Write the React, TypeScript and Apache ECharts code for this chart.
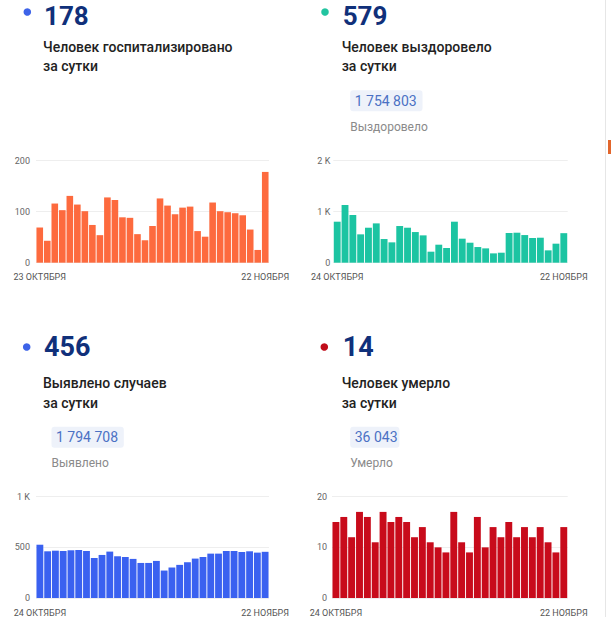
import React, { useEffect, useRef } from "react";
import * as echarts from "echarts";

const hospitalDates = [
  "23 ОКТЯБРЯ", "24 ОКТЯБРЯ", "25 ОКТЯБРЯ", "26 ОКТЯБРЯ", "27 ОКТЯБРЯ", "28 ОКТЯБРЯ", "29 ОКТЯБРЯ", "30 ОКТЯБРЯ", "31 ОКТЯБРЯ",
  "1 НОЯБРЯ", "2 НОЯБРЯ", "3 НОЯБРЯ", "4 НОЯБРЯ", "5 НОЯБРЯ", "6 НОЯБРЯ", "7 НОЯБРЯ", "8 НОЯБРЯ", "9 НОЯБРЯ", "10 НОЯБРЯ",
  "11 НОЯБРЯ", "12 НОЯБРЯ", "13 НОЯБРЯ", "14 НОЯБРЯ", "15 НОЯБРЯ", "16 НОЯБРЯ", "17 НОЯБРЯ", "18 НОЯБРЯ", "19 НОЯБРЯ", "20 НОЯБРЯ",
  "21 НОЯБРЯ", "22 НОЯБРЯ",
];
const dailyDates = [
  "24 ОКТЯБРЯ", "25 ОКТЯБРЯ", "26 ОКТЯБРЯ", "27 ОКТЯБРЯ", "28 ОКТЯБРЯ", "29 ОКТЯБРЯ", "30 ОКТЯБРЯ", "31 ОКТЯБРЯ",
  "1 НОЯБРЯ", "2 НОЯБРЯ", "3 НОЯБРЯ", "4 НОЯБРЯ", "5 НОЯБРЯ", "6 НОЯБРЯ", "7 НОЯБРЯ", "8 НОЯБРЯ", "9 НОЯБРЯ", "10 НОЯБРЯ",
  "11 НОЯБРЯ", "12 НОЯБРЯ", "13 НОЯБРЯ", "14 НОЯБРЯ", "15 НОЯБРЯ", "16 НОЯБРЯ", "17 НОЯБРЯ", "18 НОЯБРЯ", "19 НОЯБРЯ", "20 НОЯБРЯ",
  "21 НОЯБРЯ", "22 НОЯБРЯ",
];

const hospitalized = [69, 43, 116, 103, 131, 114, 101, 74, 54, 128, 123, 89, 88, 56, 44, 72, 126, 112, 95, 108, 110, 62, 51, 118, 101, 99, 97, 93, 65, 25, 178];
const recovered = [804, 1131, 935, 556, 686, 771, 464, 399, 719, 686, 601, 536, 216, 353, 288, 804, 471, 392, 307, 281, 183, 196, 582, 588, 542, 484, 490, 242, 373, 579];
const cases = [526, 461, 467, 464, 471, 474, 464, 395, 425, 458, 412, 405, 386, 346, 346, 366, 271, 301, 327, 353, 389, 405, 438, 438, 464, 464, 454, 461, 448, 456];
const deaths = [15, 16, 12, 17, 16, 11, 17, 15, 16, 15, 12, 14, 11, 10, 9, 17, 11, 9, 16, 10, 14, 12, 15, 12, 14, 12, 14, 11, 9, 14];

const headNumbers = ["178", "579", "456", "14"];
const headLine1 = ["Человек госпитализировано", "Человек выздоровело", "Выявлено случаев", "Человек умерло"];
const headLine2 = ["за сутки", "за сутки", "за сутки", "за сутки"];
const totals = ["", "1 754 803", "1 794 708", "36 043"];
const totalLabels = ["", "Выздоровело", "Выявлено", "Умерло"];

const FONT = "Roboto, 'Noto Sans', sans-serif";

export default function App() {
  const ref = useRef<HTMLDivElement>(null);
  useEffect(() => {
    if (!ref.current) return;
    const chart = echarts.init(ref.current, undefined, { renderer: "svg" });

    const grids = [
      { left: 36, top: 160.7, width: 233, height: 102 },
      { left: 333.3, top: 160.7, width: 234.4, height: 102 },
      { left: 36, top: 496.7, width: 233, height: 102.6 },
      { left: 332, top: 496.7, width: 235.7, height: 102.6 },
    ];
    const cats = [hospitalDates, dailyDates, dailyDates, dailyDates];
    const vals = [hospitalized, recovered, cases, deaths];
    const colors = ["#fd6a3e", "#1cc4a2", "#3a61f0", "#c80b1b"];
    const dotColors = ["#3d63e8", "#22c4a0", "#3d63e8", "#c00d1a"];
    const yMax = [200, 2000, 1000, 20];
    const yInt = [100, 1000, 500, 10];
    const yMargin = [6, 3, 6, 5];
    const fmts = [
      (v: number) => String(v),
      (v: number) => (v === 0 ? "0" : v / 1000 + " K"),
      (v: number) => (v >= 1000 ? v / 1000 + " K" : String(v)),
      (v: number) => String(v),
    ];

    const xAxis = cats.map((c, i) => ({
      type: "category",
      gridIndex: i,
      data: c,
      axisLine: { show: false },
      axisTick: { show: false },
      axisLabel: {
        interval: (idx: number) => idx === 0 || idx === c.length - 1,
        fontSize: 9,
        color: "#555",
        fontFamily: FONT,
        margin: 10,
        showMinLabel: true,
        showMaxLabel: true,
      },
    }));
    const yAxis = vals.map((_, i) => ({
      type: "value",
      gridIndex: i,
      min: 0,
      max: yMax[i],
      interval: yInt[i],
      axisLine: { show: false },
      axisTick: { show: false },
      splitLine: { lineStyle: { color: "#eeeeee", width: 1 } },
      axisLabel: { fontSize: 9, color: "#666", fontFamily: FONT, margin: yMargin[i], formatter: fmts[i] },
    }));
    const series = vals.map((v, i) => ({
      type: "bar",
      xAxisIndex: i,
      yAxisIndex: i,
      data: v,
      barCategoryGap: "12%",
      itemStyle: { color: colors[i] },
    }));

    const origins = [
      { x: 44, y: 0 },
      { x: 342.7, y: 0 },
      { x: 44, y: 336.5 },
      { x: 342.7, y: 336.5 },
    ];
    const dotX = [27.3, 325, 26.7, 324.3];
    const numY = [15.5, 15.5, 347, 347];
    const numSize = [26, 26, 27, 27];
    const graphic: any[] = [];
    origins.forEach((o, i) => {
      graphic.push({
        type: "circle",
        shape: { cx: dotX[i], cy: i < 2 ? 12 : o.y + 10.5, r: 3.8 },
        style: { fill: dotColors[i] },
      });
      graphic.push({
        type: "text",
        x: o.x,
        y: numY[i],
        style: {
          text: headNumbers[i], fill: "#10307a", font: `bold ${numSize[i]}px ${FONT}`,
          textVerticalAlign: "middle", verticalAlign: "middle",
        },
      });
      graphic.push({
        type: "text",
        x: o.x - 1,
        y: o.y + 46.7,
        style: {
          text: headLine1[i], fill: "#222", font: `500 14px ${FONT}`,
          textVerticalAlign: "middle", verticalAlign: "middle",
        },
      });
      graphic.push({
        type: "text",
        x: o.x - 1,
        y: o.y + 66,
        style: {
          text: headLine2[i], fill: "#222", font: `500 14px ${FONT}`,
          textVerticalAlign: "middle", verticalAlign: "middle",
        },
      });
      if (totals[i]) {
        const bx = o.x + 7.5;
        const by = o.y + 90.2;
        const bw = totals[i].length * 7.7 + 3;
        graphic.push({
          type: "rect",
          shape: { x: bx, y: by, width: bw, height: 21, r: 3 },
          style: { fill: "#eef2fa" },
        });
        graphic.push({
          type: "text",
          x: bx + 4.5,
          y: by + 10.6,
          style: {
            text: totals[i], fill: "#4b71c4", font: `14px ${FONT}`,
            textVerticalAlign: "middle", verticalAlign: "middle",
          },
        });
        graphic.push({
          type: "text",
          x: bx,
          y: o.y + 126.8,
          style: {
            text: totalLabels[i], fill: "#8a8a8a", font: `12px ${FONT}`,
            textVerticalAlign: "middle", verticalAlign: "middle",
          },
        });
      }
    });
    graphic.push({ type: "line", shape: { x1: 605.5, y1: 0, x2: 605.5, y2: 617 }, style: { stroke: "#e6e6e6", lineWidth: 1 } });
    graphic.push({ type: "rect", shape: { x: 608, y: 140, width: 3, height: 14 }, style: { fill: "#e2662c" } });

    chart.setOption({
      animation: false,
      backgroundColor: "#ffffff",
      grid: grids,
      xAxis,
      yAxis,
      series,
      graphic,
    } as any);
    return () => chart.dispose();
  }, []);
  return <div ref={ref} style={{ position: "fixed", left: 0, top: 0, width: 613, height: 617 }} />;
}
